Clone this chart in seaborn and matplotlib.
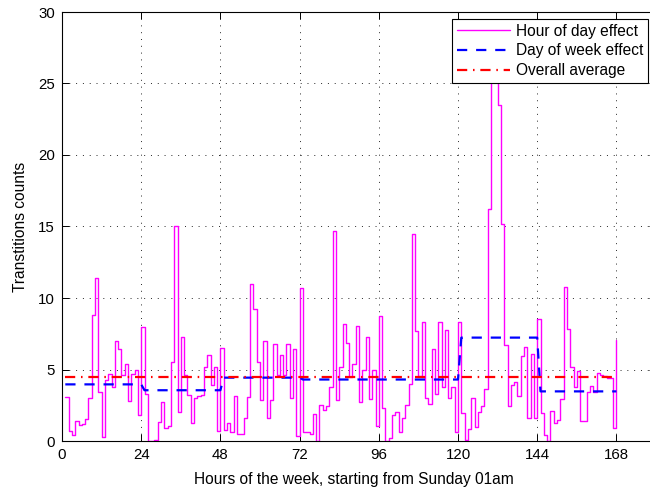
import numpy as np
import pandas as pd
import matplotlib
matplotlib.use("Agg")
import matplotlib.pyplot as plt
import seaborn as sns

# ---------------- data ----------------
hours = list(range(1, 169))
hour_effect = [
    3.1, 0.72, 0.42, 1.42, 1.1, 1.2, 1.55, 3.0, 8.8, 11.4, 3.4, 0.25,
    4.3, 4.7, 3.75, 7.0, 6.4, 4.6, 5.4, 2.8, 4.7, 5.0, 1.8, 8.0,
    3.3, 0.0, 0.0, 0.1, 1.35, 2.7, 0.9, 1.05, 5.55, 15.0, 2.05, 7.25,
    4.6, 3.2, 1.25, 3.0, 3.15, 3.2, 5.2, 6.0, 3.9, 5.15, 0.7, 6.5,
    0.77, 1.28, 0.6, 3.17, 0.5, 0.5, 1.6, 3.05, 11.0, 9.2, 5.5, 2.9,
    7.0, 1.6, 2.9, 6.8, 4.65, 6.0, 4.65, 6.8, 3.0, 6.4, 0.37, 10.7,
    0.65, 0.63, 0.5, 1.86, 0.0, 2.5, 2.2, 2.45, 3.8, 14.7, 2.9, 5.15,
    8.2, 6.85, 4.5, 5.35, 8.05, 2.7, 5.0, 7.3, 2.95, 4.95, 1.05, 8.75,
    2.33, 0.0, 0.2, 1.85, 2.05, 0.6, 1.6, 2.55, 4.0, 14.45, 7.7, 4.55,
    8.3, 3.0, 2.6, 6.45, 3.3, 8.3, 3.8, 7.75, 3.0, 3.8, 0.65, 8.35,
    1.95, 0.1, 0.85, 3.0, 0.95, 2.0, 2.45, 3.65, 16.2, 28.0, 26.0, 23.5,
    15.2, 6.7, 2.45, 3.95, 4.15, 3.15, 5.95, 6.6, 1.6, 6.05, 1.6, 8.5,
    1.95, 0.4, 0.0, 2.1, 1.25, 1.5, 2.95, 10.8, 7.8, 5.15, 3.8, 4.9,
    1.4, 1.4, 3.4, 3.85, 3.4, 4.75, 4.65, 4.55, 4.4, 4.4, 0.9, 7.05,
]
day_effect = [3.96, 3.55, 4.43, 4.30, 4.30, 7.23, 3.47]
overall_average = 4.45
x_ticks = [0, 24, 48, 72, 96, 120, 144, 168]
y_ticks = [0, 5, 10, 15, 20, 25, 30]
labels = ["Hour of day effect", "Day of week effect", "Overall average"]

df = pd.DataFrame({
    "hour": hours,
    "hour_effect": hour_effect,
    "day_effect": np.repeat(day_effect, 24),
    "overall": [overall_average] * len(hours),
})

# ---------------- styling ----------------
sns.set_theme(style="white")
plt.rcParams["font.family"] = ["Liberation Sans", "DejaVu Sans"]

W, H = 650, 494
FS = 11.2
fig = plt.figure(figsize=(W / 100, H / 100), dpi=100)
ax = fig.add_axes([62 / W, 53 / H, 594 / W, 429 / H])

sns.lineplot(data=df, x="hour", y="hour_effect", ax=ax, estimator=None,
             drawstyle="steps-post", color=(1, 0, 1), linewidth=1.0,
             legend=False)
sns.lineplot(data=df, x="hour", y="day_effect", ax=ax, estimator=None,
             color=(0, 0, 1), linewidth=1.6, legend=False,
             linestyle=(0, (4.6, 4.0)))
sns.lineplot(data=df, x="hour", y="overall", ax=ax, estimator=None,
             color=(1, 0, 0), linewidth=1.6, legend=False,
             linestyle=(0, (4.6, 2.6, 0.7, 2.6)))

ax.set_xlim(0, 180)
ax.set_ylim(0, 30)
ax.set_xticks(x_ticks)
ax.set_yticks(y_ticks)
ax.grid(True, linestyle=(0, (1, 6)), color="black", linewidth=0.7, alpha=0.85)

for s in ax.spines.values():
    s.set_color("black")
    s.set_linewidth(0.8)
    s.set_visible(True)

ax.tick_params(axis="both", which="major", direction="in", length=5, width=0.7,
               colors="black", labelcolor="black", labelsize=10.8,
               bottom=True, left=True, top=True, right=True)
ax.tick_params(axis="x", pad=5)
ax.tick_params(axis="y", pad=5)

ax.set_xlabel("Hours of the week, starting from Sunday 01am", fontsize=FS,
              color="black")
ax.set_ylabel("Transtitions counts", fontsize=FS, color="black")
ax.xaxis.set_label_coords((354 - 62) / 594, -(472 - 441) / 429)
ax.yaxis.set_label_coords(-(62 - 28) / 594, 0.5)

leg = ax.legend(handles=ax.get_lines()[:3], labels=labels,
                loc="upper right", bbox_to_anchor=(648 / W, (H - 19) / H),
                bbox_transform=fig.transFigure, borderaxespad=0,
                fontsize=FS, frameon=True, fancybox=False, framealpha=1,
                edgecolor="black", handlelength=3.4, handletextpad=0.4,
                labelspacing=0.3, borderpad=0.3)
leg.get_frame().set_linewidth(0.8)
for t in leg.get_texts():
    t.set_color("black")

fig.savefig("out.png", dpi=100)
